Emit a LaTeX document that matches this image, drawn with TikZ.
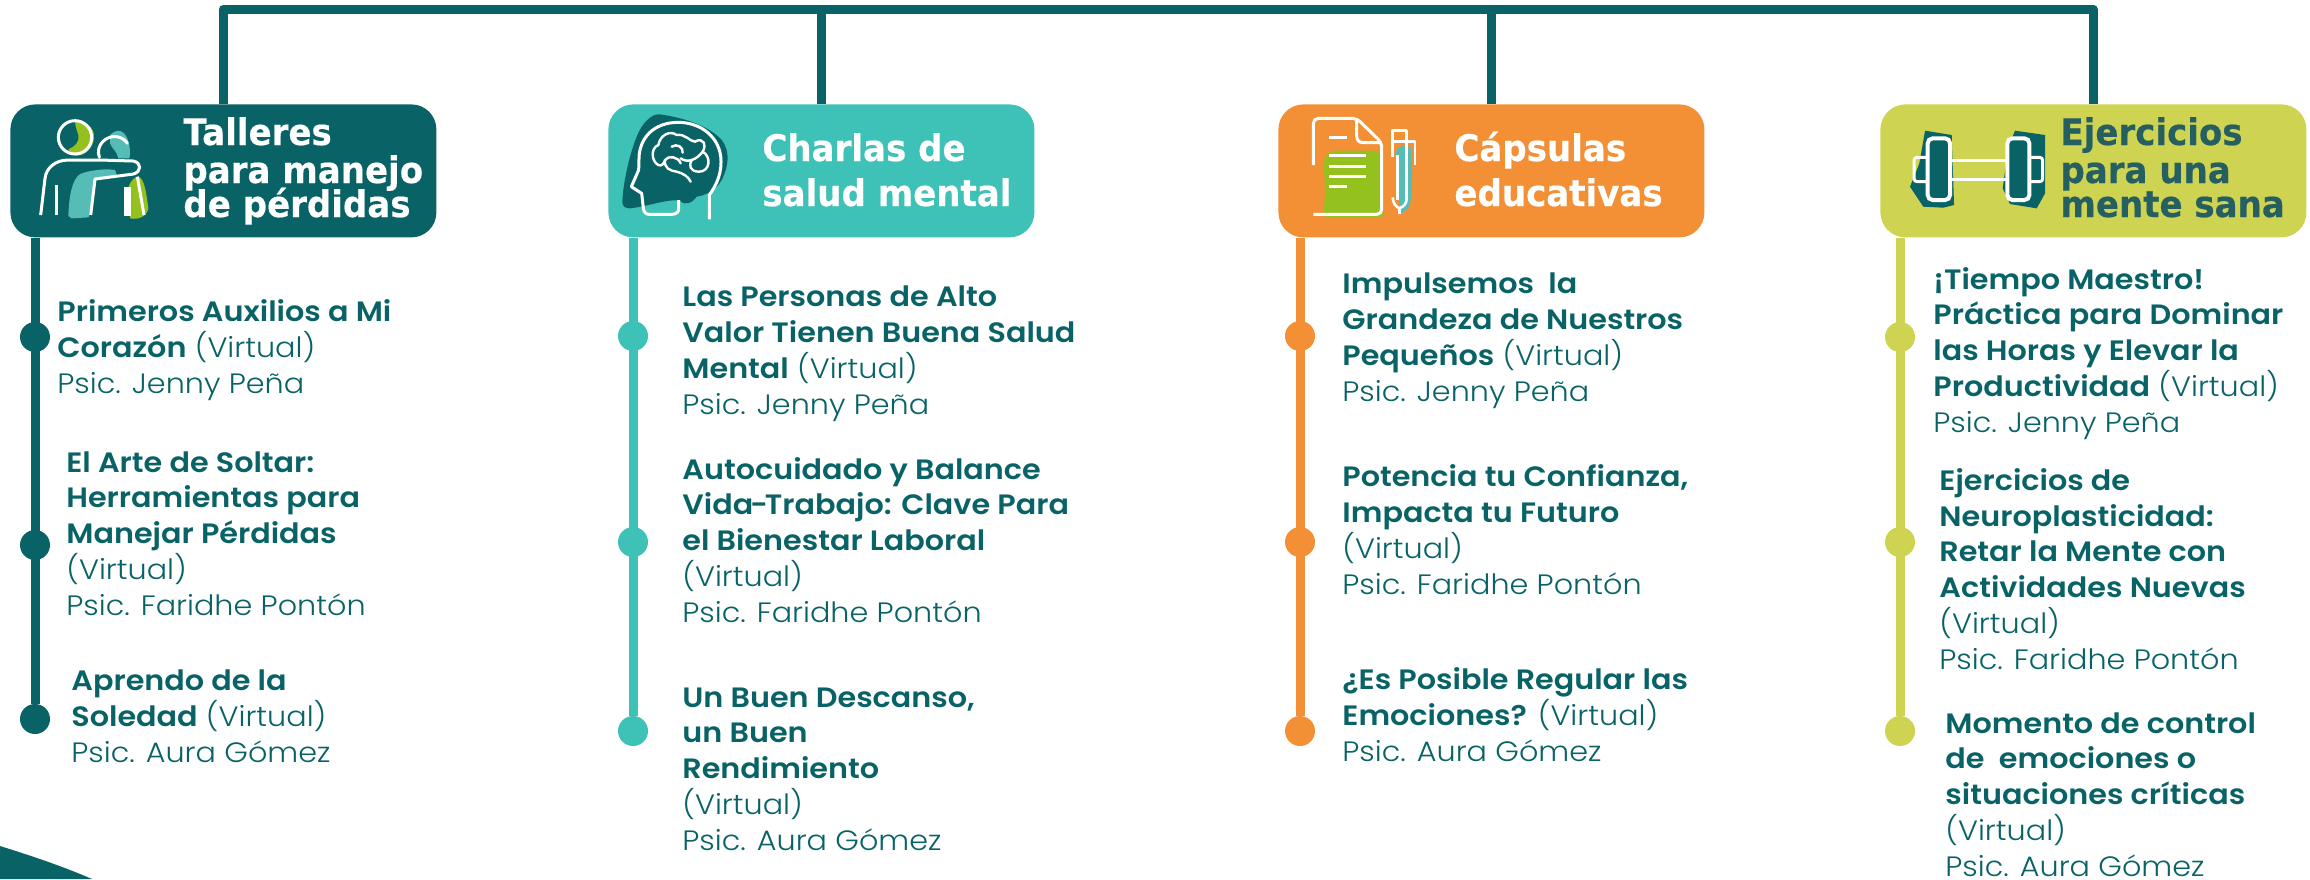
\documentclass[tikz,border=0pt]{standalone}
\usepackage{fontspec}
\setmainfont[FakeStretch=1.08,UprightFont=* Light,BoldFont=* SemiBold]{Poppins}
\newfontfamily\hfont[FakeStretch=0.93,BoldFeatures={FakeBold=0.4}]{DejaVu Sans}
\definecolor{dteal}{HTML}{096366}
\definecolor{turq}{HTML}{3EC1B6}
\definecolor{orng}{HTML}{F39035}
\definecolor{lime}{HTML}{CED352}
\definecolor{lteal}{HTML}{55BDB6}
\definecolor{grn}{HTML}{95C11F}
\definecolor{htxt}{HTML}{255F62}
\tikzset{
  hbox/.style={rounded corners=12.5pt,minimum width=213pt,minimum height=66.5pt,inner sep=0pt,anchor=north west},
  htext/.style={anchor=base west,inner sep=0pt,align=left,font=\hfont\bfseries\fontsize{18.3}{22.5}\selectfont,text=white},
  itemtext/.style={anchor=base west,inner sep=0pt,align=left,text=dteal,font=\fontsize{14}{17.85}\selectfont},
  bar/.style={line width=4.5pt,draw=dteal},
  dot/.style={circle,minimum size=15pt,inner sep=0pt},
  wl/.style={draw=white,line width=1.5pt,line join=round,fill=none}
}
\begin{document}
\begin{tikzpicture}[x=0.5pt,y=-0.5pt]
\useasboundingbox (0,0) rectangle (2310,879);
\clip (0,0) rectangle (2310,879);
% corner shape
\fill[dteal] (0,846) .. controls (32,856) and (62,866) .. (92,879) -- (0,879) -- cycle;
% headers
\node[hbox,fill=dteal] (h1) at (10,104) {};
\node[hbox,fill=turq] (h2) at (608,104) {};
\node[hbox,fill=orng] (h3) at (1278,104) {};
\node[hbox,fill=lime] (h4) at (1880,104) {};
% top connector
\coordinate (t1) at (223,9);
\coordinate (t2) at (821,9);
\coordinate (t3) at (1491,9);
\coordinate (t4) at (2093,9);
\draw[bar,line join=round] (t1 |- h1.north) -- (t1) -- (t4) -- (t4 |- h4.north);
\draw[bar] (t2) -- (t2 |- h2.north);
\draw[bar] (t3) -- (t3 |- h3.north);
% dots
\node[dot,fill=dteal] (a1) at (35,337) {};
\node[dot,fill=dteal] (a2) at (35,545) {};
\node[dot,fill=dteal] (a3) at (35,719) {};
\node[dot,fill=turq] (b1) at (633,336) {};
\node[dot,fill=turq] (b2) at (633,542) {};
\node[dot,fill=turq] (b3) at (633,731) {};
\node[dot,fill=orng] (c1) at (1300,336) {};
\node[dot,fill=orng] (c2) at (1300,542) {};
\node[dot,fill=orng] (c3) at (1300,731) {};
\node[dot,fill=lime] (d1) at (1900,337) {};
\node[dot,fill=lime] (d2) at (1900,542) {};
\node[dot,fill=lime] (d3) at (1900,731) {};
\draw[line width=4.5pt,draw=dteal] (a3 |- h1.south) -- (a3);
\draw[line width=4.5pt,draw=turq] (b3 |- h2.south) -- (b3);
\draw[line width=4.5pt,draw=orng] (c3 |- h3.south) -- (c3);
\draw[line width=4.5pt,draw=lime] (d3 |- h4.south) -- (d3);
% header text (positions are the last baseline)
\node[htext] (ht1) at (183,217) {Talleres\\[-3.5pt]para manejo\\[-5.5pt]de pérdidas};
\node[htext] (ht2) at (762,206) {Charlas de\\salud mental};
\node[htext] (ht3) at (1454,206) {Cápsulas\\educativas};
\node[htext,text=htxt] (ht4) at (2060,217) {Ejercicios\\[-3.5pt]para una\\[-5.5pt]mente sana};
% items (positions are the last baseline)
\node[itemtext] (ta1) at (57,393) {\textbf{Primeros Auxilios a Mi}\\\textbf{Corazón} (Virtual)\\Psic. Jenny Peña};
\node[itemtext] (ta2) at (66,615) {\textbf{El Arte de Soltar:}\\\textbf{Herramientas para}\\\textbf{Manejar Pérdidas}\\(Virtual)\\Psic. Faridhe Pontón};
\node[itemtext] (ta3) at (71,762) {\textbf{Aprendo de la}\\\textbf{Soledad} (Virtual)\\Psic. Aura Gómez};
\node[itemtext] (tb1) at (682,414) {\textbf{Las Personas de Alto}\\\textbf{Valor Tienen Buena Salud}\\\textbf{Mental} (Virtual)\\Psic. Jenny Peña};
\node[itemtext] (tb2) at (682,622) {\textbf{Autocuidado y Balance}\\\textbf{Vida\kern-1.5pt-\kern-1.5pt Trabajo: Clave Para}\\\textbf{el Bienestar Laboral}\\(Virtual)\\Psic. Faridhe Pontón};
\node[itemtext] (tb3) at (682,850) {\textbf{Un Buen Descanso,}\\\textbf{un Buen}\\\textbf{Rendimiento}\\(Virtual)\\Psic. Aura Gómez};
\node[itemtext] (tc1) at (1342,401) {\textbf{Impulsemos\ \ la}\\\textbf{Grandeza de Nuestros}\\\textbf{Pequeños} (Virtual)\\Psic. Jenny Peña};
\node[itemtext] (tc2) at (1342,594) {\textbf{Potencia tu Confianza,}\\\textbf{Impacta tu Futuro}\\(Virtual)\\Psic. Faridhe Pontón};
\node[itemtext] (tc3) at (1342,761) {\textbf{¿Es Posible Regular las}\\\textbf{Emociones?} (Virtual)\\Psic. Aura Gómez};
\node[itemtext] (td1) at (1933,432) {\textbf{¡Tiempo Maestro!}\\\textbf{Práctica para Dominar}\\\textbf{las Horas y Elevar la}\\\textbf{Productividad} (Virtual)\\Psic. Jenny Peña};
\node[itemtext] (td2) at (1939,669) {\textbf{Ejercicios de}\\\textbf{Neuroplasticidad:}\\\textbf{Retar la Mente con}\\\textbf{Actividades Nuevas}\\(Virtual)\\Psic. Faridhe Pontón};
\node[itemtext] (td3) at (1945,876) {\textbf{Momento de control}\\\textbf{de\ \ emociones o}\\\textbf{situaciones críticas}\\(Virtual)\\Psic. Aura Gómez};
% icon 1
\begin{scope}[shift={(0,80)},x=0.1667pt,y=-0.1667pt]
\fill[grn] (225,122) .. controls (260,122) and (285,145) .. (282,175) .. controls (278,205) and (255,228) .. (228,226) .. controls (215,225) and (208,215) .. (205,208) .. controls (225,200) and (240,185) .. (235,165) .. controls (230,150) and (225,135) .. (225,122) -- cycle;
\fill[lteal] (330,165) .. controls (345,150) and (360,148) .. (372,160) .. controls (390,180) and (392,215) .. (388,235) -- (355,235) .. controls (352,215) and (335,205) .. (330,190) -- cycle;
\fill[lteal] (205,408) .. controls (207,350) and (215,300) .. (240,282) .. controls (270,270) and (320,265) .. (345,270) -- (350,285) -- (285,297) -- (266,412) -- (215,415) -- cycle;
\fill[grn] (385,322) .. controls (390,305) and (405,288) .. (415,290) .. controls (435,295) and (440,350) .. (445,385) .. controls (440,410) and (415,420) .. (390,415) -- cycle;
\draw[wl] (225,172) circle [radius=50];
\draw[wl,line cap=round] (298,232) .. controls (285,195) and (320,165) .. (350,170) .. controls (365,172) and (375,180) .. (382,190);
\draw[wl] (122,405) -- (135,295) .. controls (138,265) and (165,240) .. (205,240) -- (300,240) -- (400,243) .. controls (425,248) and (425,275) .. (400,282) -- (285,297) -- (272,405);
\draw[wl] (170,315) -- (170,405);
\fill[white] (372,322) rectangle (392,408);
\draw[wl] (412,290) -- (432,405);
\end{scope}
% icon 2
\begin{scope}[shift={(590,80)},x=0.1667pt,y=-0.1667pt]
\fill[dteal] (97,365) .. controls (100,300) and (120,220) .. (140,170) .. controls (155,130) and (185,100) .. (210,103) .. controls (270,112) and (340,130) .. (385,170) .. controls (420,200) and (420,250) .. (395,300) .. controls (375,335) and (345,345) .. (320,350) .. controls (305,370) and (285,378) .. (270,362) .. controls (235,355) and (180,378) .. (120,385) .. controls (105,385) and (96,378) .. (97,365) -- cycle;
\draw[wl] (358,418) -- (358,345) .. controls (375,320) and (393,290) .. (393,245) .. controls (393,170) and (330,127) .. (265,127) .. controls (190,127) and (148,175) .. (147,235) -- (146,270) -- (124,320) -- (155,340) -- (160,385) .. controls (162,400) and (170,403) .. (180,403) -- (245,403) .. controls (260,403) and (266,395) .. (266,385) -- (266,360);
\draw[wl,line width=1.2pt,line cap=round] (205,255) .. controls (185,245) and (180,205) .. (205,195) .. controls (210,165) and (240,150) .. (260,165) .. controls (285,160) and (300,185) .. (315,185) .. controls (340,170) and (350,195) .. (338,215) .. controls (365,230) and (360,275) .. (327,275) .. controls (300,275) and (295,255) .. (305,240) .. controls (290,245) and (280,240) .. (272,235);
\draw[wl,line width=1.2pt,line cap=round] (205,255) .. controls (215,260) and (222,250) .. (225,240) .. controls (235,225) and (265,230) .. (272,250);
\draw[wl,line width=1.2pt,line cap=round] (225,240) .. controls (222,265) and (240,272) .. (260,275) .. controls (280,280) and (295,290) .. (302,305);
\draw[wl,line width=1.2pt,line cap=round] (245,200) .. controls (260,190) and (280,200) .. (278,218);
\draw[wl,line width=1.2pt,line cap=round] (305,240) .. controls (320,235) and (330,225) .. (338,215);
\end{scope}
% icon 3
\begin{scope}[shift={(1260,80)},x=0.1667pt,y=-0.1667pt]
\fill[grn] (190,400) .. controls (197,350) and (195,300) .. (190,260) .. controls (192,235) and (200,215) .. (225,212) -- (345,212) .. controls (360,215) and (368,235) .. (370,260) -- (372,395) .. controls (370,410) and (365,412) .. (355,412) -- (195,412) -- cycle;
\fill[lteal] (408,215) .. controls (415,195) and (440,190) .. (452,205) .. controls (458,260) and (458,330) .. (450,370) .. controls (445,390) and (430,400) .. (420,400) .. controls (415,340) and (408,280) .. (408,215) -- cycle;
\draw[wl,rounded corners=2.5pt] (160,255) -- (160,115) -- (290,115) -- (365,188) -- (365,403) -- (160,403);
\draw[wl,rounded corners=3pt] (290,115) -- (290,188) -- (365,188);
\draw[wl] (207,173) -- (262,173);
\draw[wl] (207,227) -- (318,227);
\draw[wl] (207,258) -- (318,258);
\draw[wl] (207,289) -- (318,289);
\draw[wl] (207,320) -- (262,320);
\draw[wl,line width=1.3pt] (398,230) -- (398,152) -- (440,152) -- (440,360);
\draw[wl,line width=1.3pt] (398,185) -- (465,185) -- (465,255);
\draw[wl,line width=1.3pt] (412,225) -- (412,360);
\draw[wl,line width=1.3pt] (398,352) .. controls (398,370) and (408,380) .. (418,385) .. controls (430,380) and (440,372) .. (440,355);
\draw[wl,line width=1.3pt] (418,385) -- (418,402);
\end{scope}
% icon 4
\begin{scope}[shift={(1860,80)},x=0.1667pt,y=-0.1667pt]
\fill[dteal] (195,152) -- (275,165) -- (282,375) -- (250,383) -- (190,380) -- (150,320) -- (178,250) -- cycle;
\fill[dteal] (465,152) -- (555,165) -- (555,340) -- (530,385) -- (450,372) -- (428,325) -- (445,200) -- cycle;
\draw[wl,rounded corners=1.5pt] (203,232) -- (162,232) -- (162,305) -- (203,305);
\draw[wl,rounded corners=1.5pt] (508,232) -- (548,232) -- (548,305) -- (508,305);
\draw[wl] (270,240) -- (442,240);
\draw[wl] (270,297) -- (442,297);
\draw[draw=white,line width=2pt,fill=dteal,rounded corners=2.5pt] (203,175) rectangle (270,360);
\draw[draw=white,line width=2pt,fill=dteal,rounded corners=2.5pt] (442,175) rectangle (508,360);
\end{scope}
\end{tikzpicture}
\end{document}
